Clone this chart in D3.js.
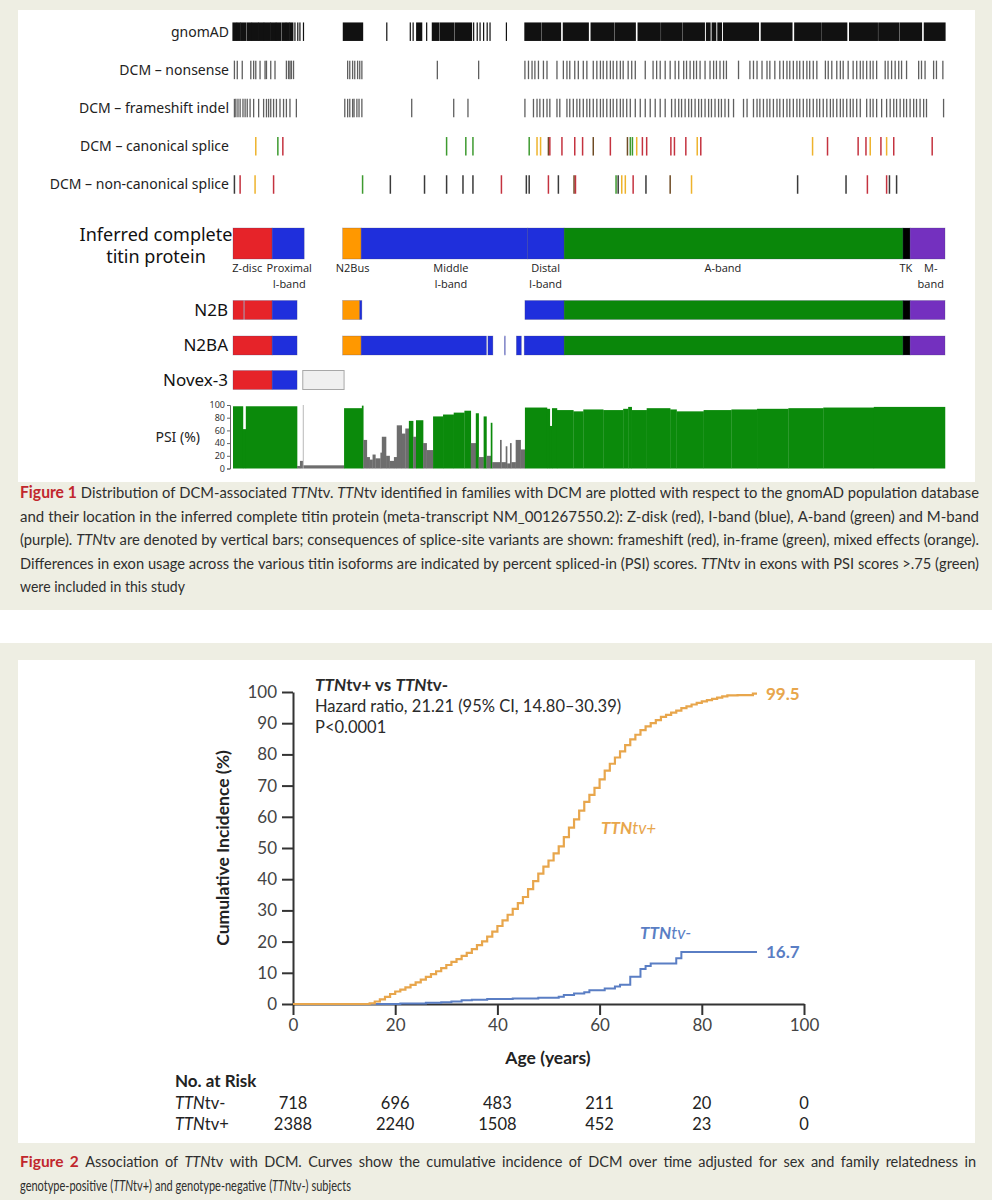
<!DOCTYPE html>
<html><head><meta charset="utf-8">
<script src="https://cdn.jsdelivr.net/npm/d3@7/dist/d3.min.js"></script>
<style>body{margin:0;background:#fff}svg{display:block}</style>
</head><body>
<svg id="c" width="992" height="1200"></svg>
<script>
// ================= DATA: Figure 1 (positions in ‰ of the meta-transcript length) =================
const trackRows = ["gnomAD","DCM – nonsense","DCM – frameshift indel","DCM – canonical splice","DCM – non-canonical splice"];
const gnomadRuns = [[0,5],[6,10],[11,18],[20,26],[27,35],[36,43],[44,52],[53,60],[61,67],[69,74],[75,79],[80,84],[87,87],[91,91],[94,94],[99,99],[155,182],[216,216],[249,249],[253,253],[258,265],[272,272],[280,289],[291,310],[312,335],[338,338],[343,343],[347,347],[352,352],[357,357],[361,361],[384,384],[410,432],[434,460],[464,499],[503,535],[537,565],[569,600],[602,630],[632,662],[665,670],[673,678],[681,686],[689,738],[742,785],[789,825],[827,862],[866,905],[907,935],[937,967],[971,1000]];
const nonsensePos = [2,6,13,25,29,32,38,45,47,53,59,75,78,80,82,85,161,164,168,171,175,178,181,287,345,410,415,420,424,429,436,441,455,464,469,473,480,485,492,497,506,511,516,520,525,530,534,539,544,548,555,560,565,579,590,595,600,607,614,621,626,633,637,642,647,651,656,663,670,675,679,684,689,693,710,726,731,736,743,750,754,761,768,773,778,782,787,792,796,801,806,810,815,820,832,836,841,848,853,857,864,871,876,881,885,890,895,899,904,916,920,925,930,935,939,946,963,967,972,984,988,997];
const frameshiftPos = [2,4,7,10,14,17,20,24,29,36,43,47,50,53,57,61,66,71,75,80,89,157,161,164,168,170,174,177,181,251,310,330,410,422,427,431,436,441,445,455,459,469,473,478,483,487,492,497,501,506,511,516,520,525,530,534,539,544,548,553,558,565,572,579,586,593,600,607,616,621,626,630,635,640,644,649,654,658,663,668,672,677,682,686,691,696,703,717,722,731,736,740,745,750,754,759,764,768,773,778,782,787,792,796,801,806,810,815,820,824,829,834,839,843,848,853,857,862,867,871,876,881,890,895,899,904,911,918,923,928,932,937,942,946,951,956,960,965,970,974,998];
// splice consequence: f = frameshift, i = in-frame, m = mixed, b = frameshift+in-frame overlap, u = unclassified
const canonicalSplice = [[32,"m"],[63,"i"],[70,"f"],[300,"i"],[327,"i"],[337,"i"],[416,"i"],[427,"m"],[432,"m"],[443,"b"],[445,"f"],[462,"f"],[480,"f"],[491,"f"],[506,"b"],[530,"f"],[554,"b"],[558,"i"],[561,"i"],[567,"m"],[575,"f"],[581,"f"],[615,"f"],[620,"f"],[636,"f"],[652,"m"],[657,"f"],[814,"m"],[835,"f"],[878,"f"],[889,"f"],[895,"m"],[910,"f"],[918,"m"],[928,"f"],[982,"f"]];
const noncanonicalSplice = [[2,"u"],[10,"f"],[31,"m"],[57,"f"],[182,"i"],[221,"u"],[269,"u"],[300,"u"],[323,"u"],[337,"u"],[377,"f"],[412,"u"],[416,"u"],[443,"f"],[457,"u"],[479,"b"],[481,"f"],[538,"i"],[541,"u"],[546,"m"],[551,"m"],[562,"f"],[580,"u"],[614,"b"],[644,"m"],[793,"u"],[861,"u"],[891,"f"],[918,"f"],[922,"u"],[932,"u"]];

const segComplete = [[0,55,"Z"],[55,100,"I"],[154,180,"N2Bus"],[180,414,"I"],[414,465,"I"],[465,941,"A"],[941,951,"TK"],[951,1000,"M"]];
const segN2B = [[0,15,"Z"],[16,55,"Z"],[55,90,"I"],[154,178,"N2Bus"],[178,181,"I"],[410,465,"I"],[465,941,"A"],[941,951,"TK"],[951,1000,"M"]];
const segN2BA = [[0,55,"Z"],[55,90,"I"],[154,180,"N2Bus"],[180,356,"I"],[358,365,"I"],[381.5,382.3,"I"],[398,405,"I"],[409,465,"I"],[465,941,"A"],[941,951,"TK"],[951,1000,"M"]];
const segNovex = [[0,55,"Z"],[55,90,"I"],[98,156,"novex"]];
const regionLabels = [["Z-disc",20],["Proximal|I-band",79],["N2Bus",168],["Middle|I-band",306],["Distal|I-band",439],["A-band",688],["TK",945],["M-|band",980]];

// PSI: [start, end, psi %, included (PSI>75 → green)]
const psiSegs = [[0,14,98,1],[14,18,62,1],[18,90,98,1],[90,94,4,0],[94,98,12,0],[98,99,100,0],[99,156,5,0],[156,181,95,1],[181,183,99,1],[183,188,45,0],[188,192,18,0],[192,196,14,0],[196,200,22,0],[200,207,16,0],[207,209,25,0],[209,215,50,0],[215,220,20,0],[220,226,12,0],[226,230,18,0],[230,237,68,0],[237,242,55,0],[242,247,63,0],[247,253,75,1],[253,257,50,0],[257,267,76,1],[267,272,40,0],[272,281,29,0],[281,295,82,1],[295,310,85,1],[310,325,88,1],[325,334,91,1],[334,341,40,0],[341,345,87,1],[345,352,18,0],[352,356,82,1],[356,362,20,0],[362,364,72,1],[364,375,10,0],[375,377,45,0],[377,383,10,0],[383,385,35,0],[385,389,8,0],[389,391,40,0],[391,397,10,0],[397,404,45,0],[404,410,30,0],[410,441,96,1],[441,445,94,1],[445,448,67,1],[448,455,95,1],[455,478,92,1],[478,492,90,1],[492,520,93,1],[520,548,92,1],[548,555,94,1],[555,560,97,1],[560,581,92,1],[581,614,95,1],[614,623,93,1],[623,661,90,1],[661,700,92,1],[700,736,93,1],[736,780,94,1],[780,829,95,1],[829,900,96,1],[900,1000,97,1]];
const psiTicks = [0,20,40,60,80,100];

const fig1Caption = [
"#Figure# #1# Distribution of DCM-associated *TTN*tv. *TTN*tv identified in families with DCM are plotted with respect to the gnomAD population database",
"and their location in the inferred complete titin protein (meta-transcript NM_001267550.2): Z-disk (red), I-band (blue), A-band (green) and M-band",
"(purple). *TTN*tv are denoted by vertical bars; consequences of splice-site variants are shown: frameshift (red), in-frame (green), mixed effects (orange).",
"Differences in exon usage across the various titin isoforms are indicated by percent spliced-in (PSI) scores. *TTN*tv in exons with PSI scores >.75 (green)",
"were included in this study"];

// ================= DATA: Figure 2 =================
const ageTicks = [0,20,40,60,80,100];
const incTicks = [0,10,20,30,40,50,60,70,80,90,100];
const ttnPosAge = [0,15,16,17,18,19,20,21,22,23,24,25,26,27,28,29,30,31,32,33,34,35,36,37,38,39,40,41,42,43,44,45,46,47,48,49,50,51,52,53,54,55,56,57,58,59,60,61,62,63,64,65,66,67,68,69,70,71,72,73,74,75,76,77,78,79,80,81,82,83,84,85,86,87,88,89,90,90.8];
const ttnPosInc = [0,0.2,0.8,1.5,2.3,3.2,4.0,4.6,5.3,6.1,6.9,7.8,8.7,9.6,10.5,11.5,12.5,13.5,14.4,15.4,16.4,17.6,18.9,20.1,21.6,23.2,25.0,26.8,28.6,30.5,32.3,34.3,36.8,39.4,41.8,44.0,46.0,48.3,50.5,53.5,56.5,59.2,62.0,64.8,67.0,69.3,72.0,74.8,77.0,79.0,81.0,83.0,84.8,86.3,87.8,89.0,90.0,91.0,92.0,92.7,93.4,94.0,94.8,95.4,96.0,96.5,97.0,97.4,97.8,98.2,98.6,98.9,98.9,99.0,99.0,99.0,99.5,99.5];
const ttnNegAge = [0,21,26,29,31,33,35,38,43,48,52,53,55,57,58,61,63,64,66,68,69,70,75,76,90.8];
const ttnNegInc = [0,0.2,0.4,0.6,0.8,1.2,1.4,1.6,1.8,2.0,2.3,2.9,3.4,3.8,4.4,5.0,5.6,6.2,8.7,11.2,12.2,13.0,14.7,16.7,16.7];
const riskAges = [0,20,40,60,80,100];
const riskNeg = [718,696,483,211,20,0];
const riskPos = [2388,2240,1508,452,23,0];
const fig2Caption = [
"#Figure# #2# Association of *TTN*tv with DCM. Curves show the cumulative incidence of DCM over time adjusted for sex and family relatedness in",
"genotype-positive (*TTN*tv+) and genotype-negative (*TTN*tv-) subjects"];

// ================= DRAWING =================
const svg = d3.select("#c");
const BEIGE = "#eeeee3";
svg.append("rect").attr("x",0).attr("y",0).attr("width",992).attr("height",610).attr("fill",BEIGE);
svg.append("rect").attr("x",18).attr("y",10).attr("width",957).attr("height",472).attr("fill","#fff");
svg.append("rect").attr("x",0).attr("y",643).attr("width",992).attr("height",557).attr("fill",BEIGE);
svg.append("rect").attr("x",18).attr("y",660).attr("width",957).attr("height",483).attr("fill","#fff");

const F1 = "'Noto Sans', 'Open Sans', sans-serif";
const xs = d3.scaleLinear().domain([0,1000]).range([233,945]);
const rowY = d3.scalePoint().domain(trackRows).range([31.7,184.5]);
const tickH = 18.5;
const f1 = svg.append("g");

f1.selectAll("text.trk").data(trackRows).join("text").attr("class","trk")
  .attr("x",229).attr("y",d=>rowY(d)).attr("dy","0.35em").attr("text-anchor","end")
  .style("font-family",F1).style("font-size","14px").attr("fill","#222").text(d=>d);

// gnomAD
f1.append("g").selectAll("rect").data(gnomadRuns).join("rect")
  .attr("x",d=>xs(d[0])-0.6).attr("width",d=>Math.max(1.2,xs(d[1])-xs(d[0])+1.2))
  .attr("y",rowY("gnomAD")-tickH/2).attr("height",tickH).attr("fill","#111");

function tickRow(row, data, acc, colorFn, w, op){
  f1.append("g").selectAll("line").data(data).join("line")
    .attr("x1",d=>xs(acc(d))).attr("x2",d=>xs(acc(d)))
    .attr("y1",rowY(row)-tickH/2).attr("y2",rowY(row)+tickH/2)
    .attr("stroke",colorFn).attr("stroke-width",w).attr("opacity",op);
}
const spliceColor = {f:"#c4323f", i:"#3d9a2f", m:"#eeb32c", b:"#6e4b24", u:"#3a3a3a"};
tickRow("DCM – nonsense", nonsensePos, d=>d, ()=>"#444", 1.3, 0.85);
tickRow("DCM – frameshift indel", frameshiftPos, d=>d, ()=>"#444", 1.3, 0.85);
tickRow("DCM – canonical splice", canonicalSplice, d=>d[0], d=>spliceColor[d[1]], 1.5, 1);
tickRow("DCM – non-canonical splice", noncanonicalSplice, d=>d[0], d=>spliceColor[d[1]], 1.5, 1);

// protein / isoforms
const regionColor = {Z:"#e62329", I:"#1f2fdc", N2Bus:"#ff9800", A:"#0a870a", TK:"#000", M:"#7430bf", novex:"#f0f0f0"};
const isoforms = [
  {segs:segComplete, y:228, h:31},
  {segs:segN2B, y:300.5, h:19},
  {segs:segN2BA, y:336, h:19},
  {segs:segNovex, y:370.5, h:19}
];
isoforms.forEach(iso=>{
  f1.append("g").selectAll("rect").data(iso.segs).join("rect")
    .attr("x",d=>xs(d[0])).attr("width",d=>Math.max(0.6,xs(d[1])-xs(d[0])))
    .attr("y",iso.y).attr("height",iso.h)
    .attr("fill",d=>regionColor[d[2]])
    .attr("stroke",d=>d[2]==="novex"?"#a8a8a8":"rgba(60,60,110,0.35)")
    .attr("stroke-width",d=>d[2]==="novex"?1:0.7);
});
const isoText = f1.append("text").attr("text-anchor","middle").style("font-family",F1).style("font-size","18px").attr("fill","#111");
isoText.append("tspan").attr("x",156).attr("y",241).text("Inferred complete");
isoText.append("tspan").attr("x",156).attr("y",263).text("titin protein");
[["N2B",310],["N2BA",345.5],["Novex-3",380]].forEach(([t,y])=>{
  f1.append("text").attr("x",228).attr("y",y).attr("dy","0.35em").attr("text-anchor","end")
    .style("font-family",F1).style("font-size","17px").attr("fill","#111").text(t);
});
regionLabels.forEach(([lab,pos])=>{
  const t = f1.append("text").attr("text-anchor","middle").style("font-family","'Open Sans', sans-serif").style("font-size","11px").attr("fill","#222");
  lab.split("|").forEach((s,i)=>t.append("tspan").attr("x",xs(pos)).attr("y",272+i*15.5).text(s));
});

// PSI
const yP = d3.scaleLinear().domain([0,100]).range([468.5,405]);
f1.append("g").selectAll("rect").data(psiSegs).join("rect")
  .attr("x",d=>xs(d[0])).attr("width",d=>xs(d[1])-xs(d[0])+0.25)
  .attr("y",d=>yP(d[2])).attr("height",d=>yP(0)-yP(d[2]))
  .attr("fill",d=>d[3]? "#0b8a0b" : (d[2]>=100 ? "#b5b5b5" : "#6d6d6d"));
const pax = f1.append("g").attr("transform","translate(230,0)")
  .call(d3.axisLeft(yP).tickValues(psiTicks).tickSize(3).tickPadding(2).tickSizeOuter(3));
pax.selectAll("text").style("font-family",F1).style("font-size","9px").attr("fill","#333");
pax.selectAll("path,line").attr("stroke","#666");
f1.append("text").attr("x",200).attr("y",437).attr("dy","0.35em").attr("text-anchor","end")
  .style("font-family",F1).style("font-size","14px").attr("fill","#222").text("PSI (%)");

// ---------- captions ----------
function parseWord(w){
  const out=[]; const re=/(#[^#]+#|\*[^*]+\*)/g; let last=0,m;
  while((m=re.exec(w))){
    if(m.index>last) out.push({t:w.slice(last,m.index),s:""});
    out.push({t:m[0].slice(1,-1), s:m[0][0]==="#"?"b":"i"});
    last=m.index+m[0].length;
  }
  if(last<w.length) out.push({t:w.slice(last),s:""});
  return out;
}
function drawCaption(lines, x0, x1, yBase, lh, fs, lastTarget){
  const g = svg.append("g").style("font-family","Lato, 'Open Sans', sans-serif")
    .style("font-size",fs+"px").attr("fill","#2e2e2e");
  lines.forEach((line,i)=>{
    const lg = g.append("g");
    const words = line.split(" ").map(parseWord);
    const els = words.map(segs=>{
      const t = lg.append("text").attr("y",0);
      segs.forEach(s=>{
        const sp=t.append("tspan").text(s.t);
        if(s.s==="b") sp.attr("font-weight","bold").attr("fill","#c1272d").style("font-size",(fs+1)+"px");
        if(s.s==="i") sp.attr("font-style","italic");
      });
      return t;
    });
    const ws = els.map(e=>e.node().getComputedTextLength());
    const total = d3.sum(ws), n = ws.length;
    const isLast = i===lines.length-1;
    const natGap = fs*0.26;
    let s=1, gap=natGap;
    if(isLast){ if(lastTarget) s = lastTarget/(total+natGap*(n-1)); }
    else {
      gap = (x1-x0-total)/(n-1);
      if(gap<natGap){ gap=natGap; s=(x1-x0)/(total+natGap*(n-1)); }
    }
    let x=0;
    els.forEach((e,j)=>{ e.attr("x",x); x += ws[j] + gap; });
    lg.attr("transform",`translate(${x0},${yBase+i*lh}) scale(${s},1)`);
  });
}
drawCaption(fig1Caption, 20, 979, 498, 23.5, 15.5, 165);

// ================= Figure 2 =================
const F2 = "Lato, 'Open Sans', sans-serif";
const ORANGE = "#e8a64c", BLUE = "#5a7ec4";
const xA = d3.scaleLinear().domain([0,100]).range([293,804]);
const yA = d3.scaleLinear().domain([0,100]).range([1004,692]);
const f2 = svg.append("g");

const ya = f2.append("g").attr("transform","translate(293,0)")
  .call(d3.axisLeft(yA).tickValues(incTicks).tickSize(11).tickPadding(5).tickSizeOuter(0));
const xa = f2.append("g").attr("transform","translate(0,1004)")
  .call(d3.axisBottom(xA).tickValues(ageTicks).tickSize(11).tickPadding(4).tickSizeOuter(0));
[ya,xa].forEach(a=>{
  a.selectAll("path,line").attr("stroke","#333").attr("stroke-width",2);
  a.selectAll("text").style("font-family",F2).style("font-size","17px").attr("fill","#444");
});

f2.append("text").attr("transform","translate(229,848) rotate(-90)").attr("text-anchor","middle")
  .style("font-family",F2).style("font-size","17.5px").style("font-weight","bold").attr("fill","#222")
  .text("Cumulative Incidence (%)");
f2.append("text").attr("x",548).attr("y",1064).attr("text-anchor","middle")
  .style("font-family",F2).style("font-size","17.5px").style("font-weight","bold").attr("fill","#222")
  .text("Age (years)");

const line = d3.line().x(d=>xA(d[0])).y(d=>yA(d[1])).curve(d3.curveStepAfter);
f2.append("path").datum(ttnNegAge.map((a,i)=>[a,ttnNegInc[i]])).attr("d",line)
  .attr("fill","none").attr("stroke",BLUE).attr("stroke-width",2);
f2.append("path").datum(ttnPosAge.map((a,i)=>[a,ttnPosInc[i]])).attr("d",line)
  .attr("fill","none").attr("stroke",ORANGE).attr("stroke-width",2.2);

// annotation
const ann = f2.append("g").style("font-family",F2).attr("fill","#2a2a2a");
const t1 = ann.append("text").attr("x",315).attr("y",691).style("font-size","17px").style("font-weight","bold");
t1.append("tspan").attr("font-style","italic").text("TTN");
t1.append("tspan").text("tv+ vs ");
t1.append("tspan").attr("font-style","italic").text("TTN");
t1.append("tspan").text("tv-");
ann.append("text").attr("x",315).attr("y",712).style("font-size","16.5px").text("Hazard ratio, 21.21 (95% CI, 14.80–30.39)");
ann.append("text").attr("x",315).attr("y",733).style("font-size","16.5px").text("P<0.0001");

const endPos = ttnPosInc[ttnPosInc.length-1], endNeg = ttnNegInc[ttnNegInc.length-1];
f2.append("text").attr("x",xA(ttnPosAge[ttnPosAge.length-1])+9).attr("y",yA(endPos)).attr("dy","0.35em")
  .style("font-family",F2).style("font-size","17px").style("font-weight","bold").attr("fill",ORANGE).text(endPos.toFixed(1));
f2.append("text").attr("x",xA(ttnNegAge[ttnNegAge.length-1])+9).attr("y",yA(endNeg)).attr("dy","0.35em")
  .style("font-family",F2).style("font-size","17px").style("font-weight","bold").attr("fill",BLUE).text(endNeg.toFixed(1));
const lp = f2.append("text").attr("x",601).attr("y",828).attr("dy","0.35em").style("font-family",F2)
  .style("font-size","17px").style("font-style","italic").style("font-weight","bold").attr("fill",ORANGE);
lp.append("tspan").text("TTN"); lp.append("tspan").style("font-weight","normal").text("tv+");
const ln = f2.append("text").attr("x",640).attr("y",933).attr("dy","0.35em").style("font-family",F2)
  .style("font-size","17px").style("font-style","italic").style("font-weight","bold").attr("fill",BLUE);
ln.append("tspan").text("TTN"); ln.append("tspan").style("font-weight","normal").text("tv-");

// risk table
const rt = f2.append("g").style("font-family",F2).attr("fill","#222");
rt.append("text").attr("x",175).attr("y",1081).attr("dy","0.35em").style("font-size","17px").style("font-weight","bold").text("No. at Risk");
[["tv-",riskNeg,1103],["tv+",riskPos,1124]].forEach(([suf,vals,y])=>{
  const t = rt.append("text").attr("x",175).attr("y",y).attr("dy","0.35em").style("font-size","16.5px");
  t.append("tspan").attr("font-style","italic").text("TTN"); t.append("tspan").text(suf);
  rt.selectAll(null).data(vals).join("text").attr("x",(d,i)=>xA(riskAges[i])).attr("y",y).attr("dy","0.35em")
    .attr("text-anchor","middle").style("font-size","16.5px").text(d=>d);
});

drawCaption(fig2Caption, 20, 976, 1167, 23.5, 14.5, 331);
</script>
</body></html>
